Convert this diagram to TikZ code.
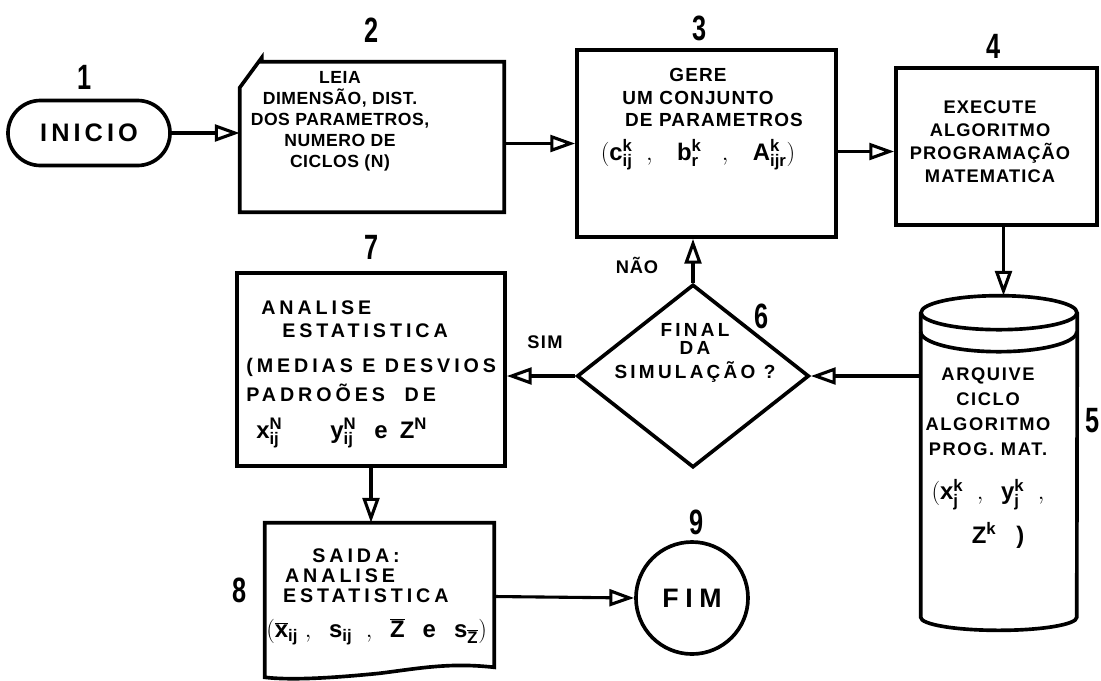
\documentclass[tikz,border=0pt]{standalone}
\usepackage{fontspec}
\setmainfont{Liberation Sans}
\usepackage{graphicx}
\usetikzlibrary{positioning,shapes.geometric,shapes.misc,arrows.meta,calc}

\newcommand{\stepno}[1]{\scalebox{0.72}[1]{#1}}
\newcommand{\mvar}[3]{\mathbf{#1}^{\mathbf{#2}}_{\mathbf{#3}}}

\begin{document}
\begin{tikzpicture}[
  x=0.025cm, y=-0.025cm,
  box/.style={rectangle, draw, line width=2.6pt, inner sep=0pt},
  hidden/.style={rectangle, draw=none, inner sep=0pt},
  txt/.style n args={3}{align=center, inner sep=0pt,
    font=\fontsize{#1}{#2}\selectfont\bfseries\addfontfeatures{LetterSpace=#3}},
  num/.style={font=\fontsize{25}{25}\selectfont\bfseries, inner sep=0pt},
  flow/.style={line width=2.2pt, -{Triangle[open, length=0.62cm, width=0.42cm]}}
]
  \useasboundingbox (0,0) rectangle (1101,680);

  % blocos
  \node[box, rounded rectangle, minimum width=4.05cm, minimum height=1.625cm,
        txt={18}{18}{16}] (inicio) at (89,133) {INICIO};
  \node[hidden, minimum width=6.6cm, minimum height=3.75cm] (leia) at (372,137) {};
  \draw[line width=2.6pt] (leia.south west) -- ($(leia.north west)+(0,26)$) -- ($(leia.north west)+(22,-4)$)
    -- ($(leia.north west)+(22,0)$) -- (leia.north east) -- (leia.south east) -- cycle;
  \node[box, minimum width=6.475cm, minimum height=4.675cm] (gere) at (706.5,143.5) {};
  \node[box, minimum width=5.025cm, minimum height=3.925cm] (exec) at (996.5,146.5) {};
  \node[hidden, minimum width=3.9cm, minimum height=8.35cm] (arq) at (999,463) {};
  \draw[line width=2.6pt] ($(arq.north west)+(0,17)$) -- ($(arq.south west)+(0,-13)$)
    arc[start angle=180, end angle=360, x radius=1.95cm, y radius=0.325cm]
    -- ($(arq.north east)+(0,17)$);
  \draw[line width=2.6pt] ($(arq.north)+(0,17)$) ellipse [x radius=1.95cm, y radius=0.425cm];
  \draw[line width=2.6pt] ($(arq.north west)+(0,36)$)
    arc[start angle=180, end angle=360, x radius=1.95cm, y radius=0.5cm];
  \node[diamond, draw, line width=2.6pt, inner sep=0pt, minimum width=5.8cm, minimum height=4.575cm] (final) at (693,376) {};
  \node[box, minimum width=6.7cm, minimum height=4.825cm] (anal) at (371,369.5) {};
  \node[hidden, minimum width=5.725cm, minimum height=3.675cm] (saida) at (379.5,596.5) {};
  \draw[line width=2.6pt] (saida.north west) -- (saida.north east) -- ($(saida.south east)+(0,-3)$)
    .. controls ($(saida.south east)+(-45,-8)$) and ($(saida.south)+(40,-2)$) .. ($(saida.south)+(0,3)$)
    .. controls ($(saida.south)+(-50,8)$) and ($(saida.south west)+(25,10)$) .. ($(saida.south west)+(0,7)$)
    -- cycle;
  \node[circle, draw, line width=2.6pt, inner sep=0pt, minimum size=2.8cm,
        txt={19}{19}{25}] (fim) at (692,598) {FIM};

  % textos
  \node[txt={12.5}{15}{3}] (leiatxt) at (340,121)
    {LEIA\\DIMENSÃO, DIST.\\DOS PARAMETROS,\\NUMERO DE\\CICLOS (N)};
  \node[txt={13.5}{16}{6}] (geretxt) at (698,119)
    {GERE\\UM CONJUNTO\\\hspace*{0.8cm}DE PARAMETROS\\[8pt]%
     {\fontsize{17}{17}\selectfont$(\mvar{c}{k}{ij}\;\;,\;\;\; \mvar{b}{k}{r}\;\;\;,\;\;\; \mvar{A}{k}{ijr})$}};
  \node[txt={13}{16.3}{6}] (exectxt) at (990,142)
    {EXECUTE\\ALGORITMO\\PROGRAMAÇÃO\\MATEMATICA};
  \node[txt={13}{17.7}{9}] (arqtxt) at (988,458)
    {ARQUIVE\\CICLO\\ALGORITMO\\PROG. MAT.\\[14pt]%
     {\fontsize{17}{17}\selectfont$(\mvar{x}{k}{j}\;\;,\;\; \mvar{y}{k}{j}\;\;,$}\\[8pt]%
     \hspace*{0.5cm}{\fontsize{17}{17}\selectfont$\mathbf{Z}^{\mathbf{k}}$\;\;\;)}};
  \node[txt={13.5}{13}{17}] (finaltxt) at (695,353)
    {FINAL\\DA\\[4pt]SIMULAÇÃO ?};
  \node[txt={14}{16.3}{20}, align=left, anchor=west] (analtxt) at (246,374)
    {\hspace*{0.375cm}ANALISE\\\hspace*{0.9cm}ESTATISTICA\\[9pt](MEDIAS E DESVIOS\\[4pt]PADROÕES\quad DE\\[10pt]%
     \hspace*{0.25cm}{\fontsize{17}{17}\selectfont$\mvar{x}{N}{ij}$\hspace{1.2cm}$\mvar{y}{N}{ij}$\hspace{0.45cm}e\hspace{0.3cm}$\mathbf{Z}^{\mathbf{N}}$}};
  \node[txt={14}{14.2}{20}, align=left, anchor=west] (saidatxt) at (266,597)
    {\hspace*{1.15cm}SAIDA:\\\hspace*{0.47cm}ANALISE\\\hspace*{0.42cm}ESTATISTICA\\[11pt]%
     {\fontsize{17}{17}\selectfont$(\overline{\mathbf{x}}_{\mathbf{ij}}\;,\;\; \mathbf{s}_{\mathbf{ij}}\;\;,\;\; \overline{\mathbf{Z}}$\; e\; $\mathbf{s}_{\overline{\mathbf{Z}}})$}};

  % numeros
  \node[num] (n1) at (85,77) {\stepno{1}};
  \node[num] (n2) at (372,30) {\stepno{2}};
  \node[num] (n3) at (700,28) {\stepno{3}};
  \node[num] (n4) at (994,46) {\stepno{4}};
  \node[num] (n5) at (1093,421) {\stepno{5}};
  \node[num] (n6) at (762,316) {\stepno{6}};
  \node[num] (n7) at (372,247) {\stepno{7}};
  \node[num] (n8) at (240,590) {\stepno{8}};
  \node[num] (n9) at (697,522) {\stepno{9}};

  % ligacoes
  \coordinate (execin) at ($(exec.west)+(0,5)$);
  \coordinate (execout) at ($(exec.south)+(7,0)$);
  \draw[flow] (inicio.east) -- (inicio.east -| leia.west);
  \draw[flow] (gere.west -| leia.east) -- (gere.west);
  \draw[flow] (execin -| gere.east) -- (execin);
  \draw[flow] (execout) -- (execout |- arq.north);
  \draw[flow] (final.east -| arq.west) -- (final.east);
  \draw[flow] (final.west) -- (final.west -| anal.east);
  \draw[flow] (final.north) -- (final.north |- gere.south);
  \draw[flow] (anal.south) -- (anal.south |- saida.north);
  \draw[flow] (saida.east) -- (fim.west);

  \node[txt={13}{13}{5}] (nao) at (637,265) {NÃO};
  \node[txt={13}{13}{8}] (sim) at (545,342) {SIM};
\end{tikzpicture}
\end{document}
